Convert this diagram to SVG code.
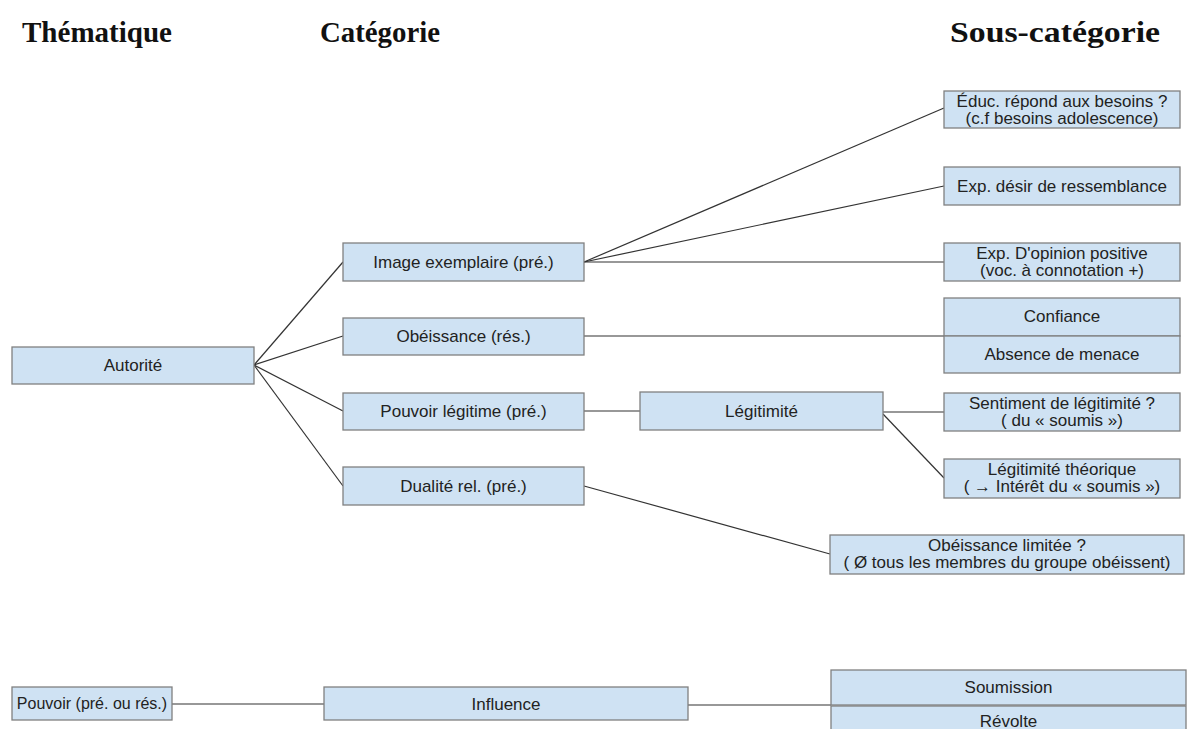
<svg xmlns="http://www.w3.org/2000/svg" width="1188" height="729" viewBox="0 0 1188 729">
<style>
.box{fill:#cfe2f3;stroke:#808080;stroke-width:1.3}
.t{font-family:"Liberation Sans",Arial,sans-serif;font-size:17px;fill:#222;text-anchor:middle}
.h{font-family:"Liberation Serif","Times New Roman",serif;font-size:30px;font-weight:bold;fill:#111}
.c{stroke:#333;stroke-width:1.2;fill:none}
</style>
<rect width="1188" height="729" fill="#fff"/>
<g id="headers">
<text class="h" x="22" y="42" textLength="150" lengthAdjust="spacingAndGlyphs">Thématique</text>
<text class="h" x="320" y="42" textLength="120" lengthAdjust="spacingAndGlyphs">Catégorie</text>
<text class="h" x="950" y="42" textLength="210" lengthAdjust="spacingAndGlyphs">Sous-catégorie</text>
</g>
<g id="connectors">
<line class="c" x1="254" y1="365" x2="343" y2="262"/>
<line class="c" x1="254" y1="365" x2="343" y2="336"/>
<line class="c" x1="254" y1="365" x2="343" y2="411"/>
<line class="c" x1="254" y1="365" x2="343" y2="486"/>
<line class="c" x1="584" y1="262" x2="944" y2="108"/>
<line class="c" x1="584" y1="262" x2="944" y2="186"/>
<line class="c" x1="584" y1="262" x2="944" y2="262"/>
<line class="c" x1="584" y1="336" x2="944" y2="336"/>
<line class="c" x1="584" y1="411" x2="640" y2="411"/>
<line class="c" x1="883" y1="412" x2="944" y2="412"/>
<line class="c" x1="883" y1="414" x2="944" y2="478"/>
<line class="c" x1="584" y1="486" x2="830" y2="554"/>
<line class="c" x1="172" y1="704" x2="324" y2="704"/>
<line class="c" x1="688" y1="705" x2="831" y2="705"/>
</g>
<g id="autorite"><rect class="box" x="12" y="347" width="242" height="37"/><text class="t" x="133" y="371">Autorité</text></g>
<g id="image-exemplaire"><rect class="box" x="343" y="243" width="241" height="38"/><text class="t" x="463.5" y="268">Image exemplaire (pré.)</text></g>
<g id="obeissance"><rect class="box" x="343" y="318" width="241" height="37"/><text class="t" x="463.5" y="342">Obéissance (rés.)</text></g>
<g id="pouvoir-legitime"><rect class="box" x="343" y="393" width="241" height="37"/><text class="t" x="463.5" y="417">Pouvoir légitime (pré.)</text></g>
<g id="dualite"><rect class="box" x="343" y="467" width="241" height="38"/><text class="t" x="463.5" y="492">Dualité rel. (pré.)</text></g>
<g id="legitimite"><rect class="box" x="640" y="392" width="243" height="38"/><text class="t" x="761.5" y="417">Légitimité</text></g>
<g id="educ"><rect class="box" x="944" y="91" width="236" height="37"/><text class="t" x="1062" y="107">Éduc. répond aux besoins ?</text><text class="t" x="1062" y="124">(c.f besoins adolescence)</text></g>
<g id="exp-desir"><rect class="box" x="944" y="167" width="236" height="38"/><text class="t" x="1062" y="192">Exp. désir de ressemblance</text></g>
<g id="exp-opinion"><rect class="box" x="944" y="243" width="236" height="38"/><text class="t" x="1062" y="259">Exp. D'opinion positive</text><text class="t" x="1062" y="276">(voc. à connotation +)</text></g>
<g id="confiance"><rect class="box" x="944" y="298" width="236" height="38"/><text class="t" x="1062" y="322">Confiance</text></g>
<g id="absence-menace"><rect class="box" x="944" y="336" width="236" height="37"/><text class="t" x="1062" y="360">Absence de menace</text></g>
<g id="sentiment"><rect class="box" x="944" y="393" width="236" height="38"/><text class="t" x="1062" y="409">Sentiment de légitimité ?</text><text class="t" x="1062" y="426">( du « soumis »)</text></g>
<g id="legitimite-theorique"><rect class="box" x="944" y="459" width="236" height="39"/><text class="t" x="1062" y="475">Légitimité théorique</text><text class="t" x="1062" y="492">( → Intérêt du « soumis »)</text></g>
<g id="obeissance-limitee"><rect class="box" x="830" y="535" width="354" height="39"/><text class="t" x="1007" y="551">Obéissance limitée ?</text><text class="t" x="1007" y="568">( Ø tous les membres du groupe obéissent)</text></g>
<g id="pouvoir"><rect class="box" x="12" y="687" width="160" height="33"/><text class="t" x="92" y="709" style="font-size:16px">Pouvoir (pré. ou rés.)</text></g>
<g id="influence"><rect class="box" x="324" y="687" width="364" height="33"/><text class="t" x="506" y="710">Influence</text></g>
<g id="soumission"><rect class="box" x="831" y="670" width="355" height="35"/><text class="t" x="1008.5" y="693">Soumission</text></g>
<g id="revolte"><rect class="box" x="831" y="706" width="355" height="35"/><text class="t" x="1008.5" y="727">Révolte</text></g>
</svg>
